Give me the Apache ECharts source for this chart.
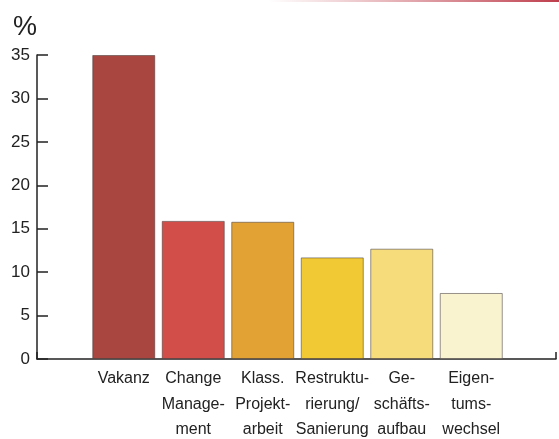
<!DOCTYPE html>
<html>
<head>
<meta charset="utf-8">
<script src="https://cdn.jsdelivr.net/npm/echarts@6/dist/echarts.min.js"></script>
<style>
  html, body { margin: 0; padding: 0; background: #fff; }
  #chart { width: 559px; height: 439px; }
</style>
</head>
<body>
<div id="chart"></div>
<script>
// Anteile je Einsatzart (%)
const categories = [
  'Vakanz',
  'Change\nManage-\nment',
  'Klass.\nProjekt-\narbeit',
  'Restruktu-\nrierung/\nSanierung',
  'Ge-\nschäfts-\naufbau',
  'Eigen-\ntums-\nwechsel'
]
const values = [35, 15.9, 15.8, 11.7, 12.7, 7.6]
const barColors = ['#a8463f', '#d24f49', '#e2a234', '#f1c934', '#f6dc7a', '#faf3cf']
const yTicks = { min: 0, max: 35, interval: 5 }

const chart = echarts.init(document.getElementById('chart'))
const textColor = '#222'
const font = 'Liberation Sans, Arial, sans-serif'

const option = {
  animation: false,
  backgroundColor: '#fff',
  title: {
    text: '%',
    left: 8,
    top: 9,
    textStyle: { fontSize: 27, fontWeight: 'normal', color: textColor, fontFamily: font }
  },
  graphic: [
    {
      type: 'line',
      shape: { x1: 270, y1: 1, x2: 559, y2: 1 },
      style: {
        lineWidth: 2,
        stroke: new echarts.graphic.LinearGradient(0, 0, 1, 0, [
          { offset: 0, color: 'rgba(200,90,100,0)' },
          { offset: 1, color: 'rgba(190,60,75,1)' }
        ])
      }
    }
  ],
  grid: [
    // frame: axis lines
    { left: 37, right: 3, top: 55, bottom: 80, outerBoundsMode: 'none' },
    // bars
    { left: 89, right: 53, top: 55, bottom: 80, outerBoundsMode: 'none' }
  ],
  xAxis: [
    {
      gridIndex: 0,
      type: 'value',
      min: 0,
      max: 1,
      interval: 1,
      axisLine: { show: true, lineStyle: { color: textColor, width: 1.5 } },
      axisTick: { show: true, inside: true, length: 7, lineStyle: { color: textColor, width: 1.5 } },
      axisLabel: { show: false },
      splitLine: { show: false }
    },
    {
      gridIndex: 1,
      type: 'category',
      data: categories,
      axisLine: { show: false },
      axisTick: { show: false },
      axisLabel: {
        interval: 0,
        hideOverlap: false,
        margin: 7,
        fontSize: 16,
        lineHeight: 25.5,
        color: textColor,
        fontFamily: font
      }
    }
  ],
  yAxis: [
    {
      gridIndex: 0,
      type: 'value',
      min: yTicks.min,
      max: yTicks.max,
      interval: yTicks.interval,
      axisLine: { show: true, lineStyle: { color: textColor, width: 1.5 } },
      axisTick: { show: true, inside: true, length: 11, lineStyle: { color: textColor, width: 1.5 } },
      axisLabel: { margin: 7, fontSize: 17, color: textColor, fontFamily: font },
      splitLine: { show: false }
    },
    {
      gridIndex: 1,
      type: 'value',
      min: yTicks.min,
      max: yTicks.max,
      interval: yTicks.interval,
      show: false,
      splitLine: { show: false }
    }
  ],
  series: [
    {
      type: 'bar',
      xAxisIndex: 1,
      yAxisIndex: 1,
      barWidth: 63,
      data: values.map(function (v, i) {
        return {
          value: v,
          itemStyle: {
            color: barColors[i],
            borderColor: 'rgba(70,60,60,0.55)',
            borderWidth: 1
          }
        }
      })
    }
  ]
}
chart.setOption(option)
</script>
</body>
</html>
